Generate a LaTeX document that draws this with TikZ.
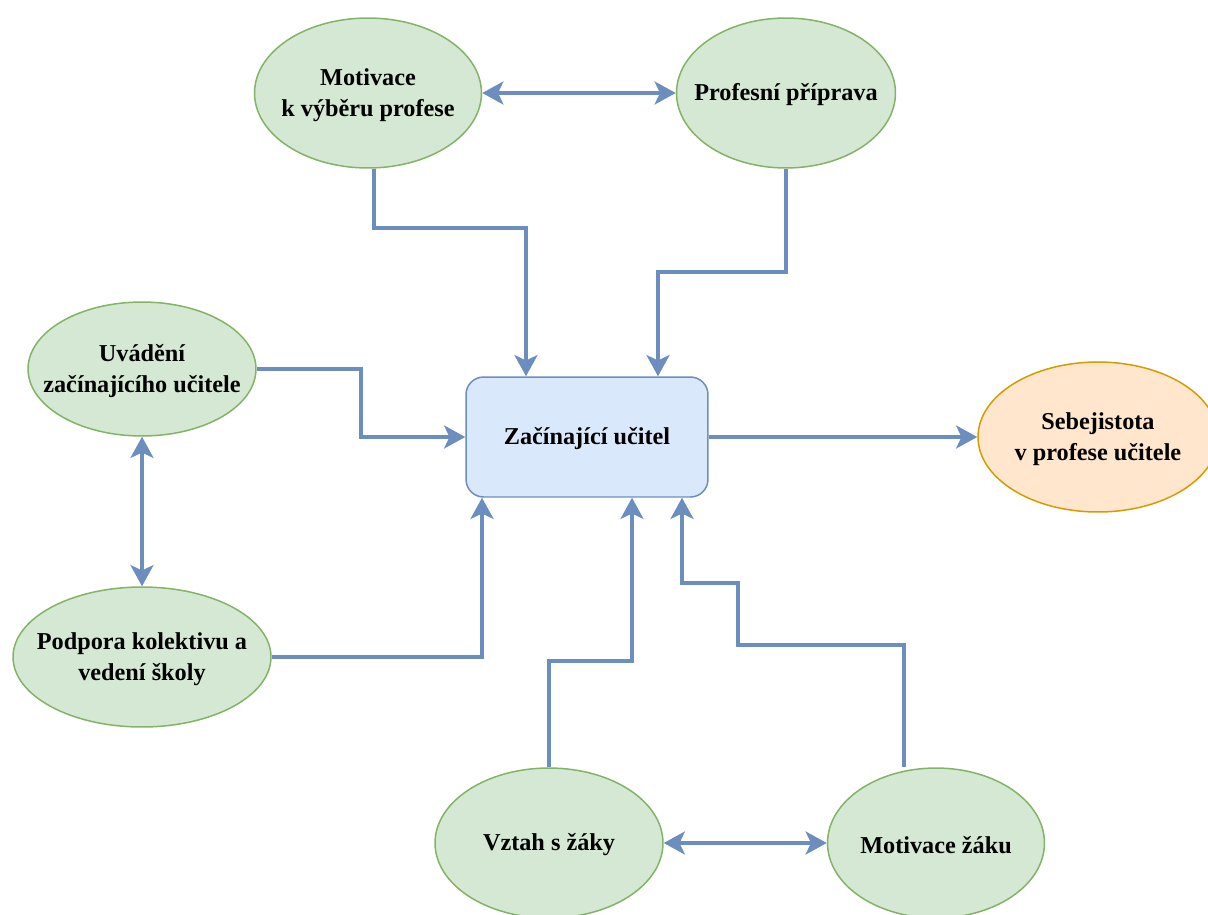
\documentclass[tikz,border=0pt]{standalone}
\usepackage{fontspec}
\setmainfont{Liberation Serif}
\usepackage{tikz}
\usetikzlibrary{arrows.meta, calc, shapes.geometric, positioning}
\usepackage{xcolor}
\definecolor{dio-green}{HTML}{D5E8D4}
\definecolor{dio-green-line}{HTML}{82B366}
\definecolor{dio-blue}{HTML}{DAE8FC}
\definecolor{dio-blue-line}{HTML}{6C8EBF}
\definecolor{dio-orange}{HTML}{FFE6CC}
\definecolor{dio-orange-line}{HTML}{D79B00}

\tikzset{
	label text/.style={align=center, inner sep=0pt, yshift=-1pt, font=\fontsize{13.8}{17.6}\selectfont\bfseries},
	factor/.style={ellipse, inner sep=0pt, draw=dio-green-line, fill=dio-green, line width=0.85pt},
	link/.style={draw=dio-blue-line, line width=2.3pt, -{Stealth[length=12pt, width=13pt, inset=3pt]}},
	both/.style={{Stealth[length=12pt, width=13pt, inset=3pt]}-{Stealth[length=12pt, width=13pt, inset=3pt]}}
}

\begin{document}
\begin{tikzpicture}[x=0.02cm, y=-0.02cm]
	\useasboundingbox (0,0) rectangle (1208,914);
	\clip (0,0) rectangle (1208,914);
	
	% factors around the beginner
	\node[factor, minimum width=4.54cm, minimum height=3cm, label={[label text]center:{Motivace\\k výběru profese}}] at (368, 93) (mot) {};
	\node[factor, minimum width=4.38cm, minimum height=3cm, label={[label text]center:{Profesní příprava}}] at (786, 93) (prof) {};
	\node[factor, minimum width=4.56cm, minimum height=2.68cm, label={[label text]center:{Uvádění\\začínajícího učitele}}] at (142, 369) (uvad) {};
	\node[factor, minimum width=5.16cm, minimum height=2.8cm, label={[label text]center:{Podpora kolektivu a\\vedení školy}}] at (142, 657) (podp) {};
	\node[factor, minimum width=4.56cm, minimum height=3cm, label={[label text]center:{Vztah s žáky}}] at (549, 843) (vztah) {};
	\node[factor, minimum width=4.34cm, minimum height=3cm, label={[label text]center:{Motivace žáku}}] at (936, 843) (motz) {};
	
	\node[draw=dio-blue-line, fill=dio-blue, line width=0.85pt, rounded corners=10pt,
		minimum width=4.84cm, minimum height=2.4cm, label={[label text]center:{Začínající učitel}}] at (587, 437) (box) {};
	\node[ellipse, inner sep=0pt, draw=dio-orange-line, fill=dio-orange, line width=0.85pt,
		minimum width=4.8cm, minimum height=3cm, label={[label text]center:{Sebejistota\\v profese učitele}}] at (1098, 437) (sebe) {};
	
	% connectors
	\draw[link, both] (mot) -- (prof);
	\draw[link, both] (vztah) -- (motz);
	\draw[link, both] (uvad) -- (podp);
	\draw[link] ($(mot.south)+(6,0)$) -- ++(0,59) -| ($(box.north)+(-61,0)$);
	\draw[link] (prof.south) -- ++(0,103) -| ($(box.north)+(71,0)$);
	\draw[link] (uvad.east) -- ++(104,0) |- (box.west);
	\draw[link] (podp.east) -| ($(box.south)+(-105,0)$);
	\draw[link] (vztah.north) -- ++(0,-106) -| ($(box.south)+(45,0)$);
	\draw[link] ($(motz.north)+(-32,0)$) -- ++(0,-122) -- ++(-166,0) -- ++(0,-62) -| ($(box.south)+(95,0)$);
	\draw[link] (box) -- (sebe);
\end{tikzpicture}
\end{document}
